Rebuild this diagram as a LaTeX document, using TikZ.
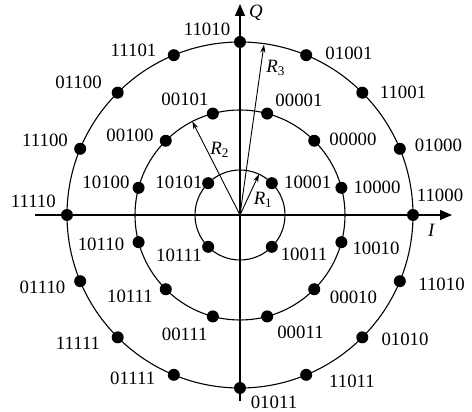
\documentclass[tikz,border=0pt]{standalone}
\usepackage{fontspec}
\setmainfont{Liberation Serif}
\usetikzlibrary{arrows.meta}

\tikzset{
  dot/.style={circle, fill=black, inner sep=0pt, minimum size=6pt},
  bits/.style={inner sep=0pt, font=\fontsize{9.4}{11}\selectfont},
  axis/.style={line width=0.55pt, -{Triangle[length=6pt,width=5pt]}},
  ring/.style={line width=0.55pt},
  radius arrow/.style={line width=0.45pt, -{Stealth[length=4pt,width=2.6pt]}}
}

\begin{document}
\begin{tikzpicture}[x=0.5pt, y=0.5pt]
  \useasboundingbox (-240,-197) rectangle (232,215);
  \coordinate (O) at (0,0);

  % Axes
  \coordinate (xl) at (-205,0);
  \coordinate (xr) at (212,0);
  \coordinate (yb) at (0,-186);
  \coordinate (yt) at (0,211);
  \draw[axis] (xl) -- (xr);
  \draw[axis] (yb) -- (yt);
  \node[bits] (lI) at (191.7,-15) {\textit{I}};
  \node[bits] (lQ) at (16,202) {\textit{Q}};

  % Rings
  \draw[ring] (O) circle[radius=45];
  \draw[ring] (O) circle[radius=105];
  \draw[ring] (O) circle[radius=173];

  % Radius arrows
  \coordinate (r1) at (65:45);
  \coordinate (r2) at (117:105);
  \coordinate (r3) at (82:172);
  \draw[radius arrow] (O) -- (r1);
  \draw[radius arrow] (O) -- (r2);
  \draw[radius arrow] (O) -- (r3);
  \node[bits] (lR1) at (23.3,15) {\textit{R}\textsubscript{1}};
  \node[bits] (lR2) at (-20,65) {\textit{R}\textsubscript{2}};
  \node[bits] (lR3) at (36,147) {\textit{R}\textsubscript{3}};

  % Inner ring: 4 points
  \foreach \n/\a/\code/\lx/\ly in {1/45/10001/67.7/33, 2/135/10101/-61/33,
      3/225/10111/-61/-40, 4/315/10011/64/-39} {
    \node[dot] (i\n) at (\a:45) {};
    \node[bits] (li\n) at (\lx,\ly) {\code};
  }

  % Middle ring: 12 points
  \foreach \n/\a/\code/\lx/\ly in {1/15/10000/137/28, 2/45/00000/113/76,
      3/75/00001/59/115, 4/105/00101/-55/116, 5/135/00100/-110/80,
      6/165/10100/-134/33, 7/195/10110/-139/-29, 8/225/10111/-110/-81,
      9/255/00111/-55.3/-119, 10/285/00011/60.5/-117, 11/315/00010/113.5/-82,
      12/345/10010/136/-33} {
    \node[dot] (m\n) at (\a:105) {};
    \node[bits] (lm\n) at (\lx,\ly) {\code};
  }

  % Outer ring: 16 points
  \foreach \n/\a/\code/\lx/\ly in {1/0/11000/200/20, 2/22.5/01000/198.5/70,
      3/45/11001/163/123, 4/67.5/01001/109/162, 5/90/11010/-33/186,
      6/112.5/11101/-106.5/165, 7/135/01100/-161.5/133, 8/157.5/11100/-195/75,
      9/180/11110/-206.7/14, 10/202.5/01110/-197.5/-72, 11/225/11111/-162/-128,
      12/247.5/01111/-107.3/-163, 13/270/01011/34/-187, 14/292.5/11011/112/-166,
      15/315/01010/165/-124, 16/337.5/11010/201.5/-69} {
    \node[dot] (o\n) at (\a:173) {};
    \node[bits] (lo\n) at (\lx,\ly) {\code};
  }
\end{tikzpicture}
\end{document}
